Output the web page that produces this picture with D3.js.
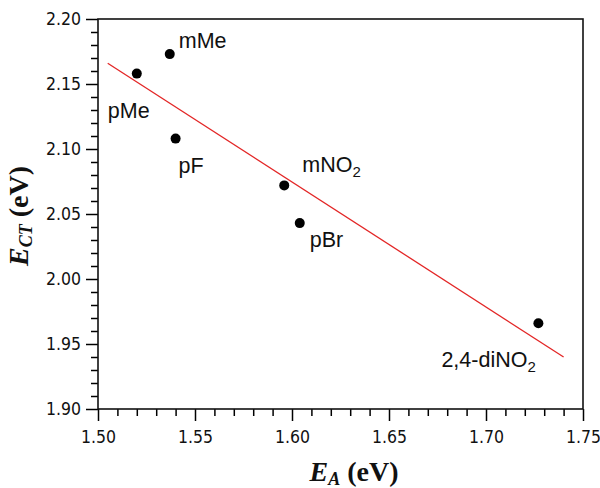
<!DOCTYPE html>
<html>
<head>
<meta charset="utf-8">
<script src="https://cdn.jsdelivr.net/npm/d3@7"></script>
<style>
  body { margin: 0; background: #fff; }
  .tick text { font-family: "DejaVu Sans Condensed", "DejaVu Sans", sans-serif; font-size: 17.5px; fill: #111; }
  .lbl { font-family: "Liberation Sans", Arial, sans-serif; font-size: 21.5px; fill: #111; }
  .title { font-family: "Liberation Serif", "Times New Roman", serif; font-size: 28px; font-weight: bold; fill: #111; }
</style>
</head>
<body>
<div id="chart"></div>
<script>
// substituents, acceptor energy E_A and CT energy E_CT (eV)
var names = ["pMe", "mMe", "pF", "mNO2", "pBr", "2,4-diNO2"];
var ea = [1.520, 1.537, 1.540, 1.596, 1.604, 1.727];
var ect = [2.158, 2.173, 2.108, 2.072, 2.043, 1.966];

// linear fit end points
var fitX = [1.505, 1.740];
var fitY = [2.166, 1.940];

var xTicks = [1.50, 1.55, 1.60, 1.65, 1.70, 1.75];
var yTicks = [1.90, 1.95, 2.00, 2.05, 2.10, 2.15, 2.20];

// label offsets from the dot (px)
var labelDx = [-29, 9, 3, 18, 10, -97];
var labelDy = [44, -6, 34, -13, 24, 44];

var width = 600, height = 488;
var margin = {top: 19, right: 17, bottom: 79, left: 98};

var svg = d3.select("#chart").append("svg")
    .attr("width", width)
    .attr("height", height);

var x = d3.scaleLinear().domain([1.50, 1.75]).range([margin.left, width - margin.right]);
var y = d3.scaleLinear().domain([1.90, 2.20]).range([height - margin.bottom, margin.top]);

function minor(lo, hi) {
    var out = [];
    for (var i = Math.round(lo * 100); i <= Math.round(hi * 100); i++) {
        if (i % 5 != 0) out.push(i / 100);
    }
    return out;
}

// minor ticks
svg.append("g")
    .attr("transform", "translate(0," + y.range()[0] + ")")
    .call(d3.axisBottom(x).tickValues(minor(1.50, 1.75)).tickSize(7).tickFormat(""))
    .call(function (g) { g.select(".domain").remove(); })
    .selectAll("line").attr("stroke-width", 1.5);
svg.append("g")
    .attr("transform", "translate(" + x.range()[0] + ",0)")
    .call(d3.axisLeft(y).tickValues(minor(1.90, 2.20)).tickSize(7).tickFormat(""))
    .call(function (g) { g.select(".domain").remove(); })
    .selectAll("line").attr("stroke-width", 1.5);

// major ticks
var xAxis = svg.append("g")
    .attr("transform", "translate(0," + y.range()[0] + ")")
    .call(d3.axisBottom(x).tickValues(xTicks).tickSize(12).tickPadding(10).tickFormat(d3.format(".2f")));
xAxis.select(".domain").remove();
xAxis.selectAll("line").attr("stroke-width", 1.5);

var yAxis = svg.append("g")
    .attr("transform", "translate(" + x.range()[0] + ",0)")
    .call(d3.axisLeft(y).tickValues(yTicks).tickSize(12).tickPadding(5).tickFormat(d3.format(".2f")));
yAxis.select(".domain").remove();
yAxis.selectAll("line").attr("stroke-width", 1.5);

// frame
svg.append("rect")
    .attr("x", x.range()[0])
    .attr("y", y.range()[1])
    .attr("width", x.range()[1] - x.range()[0])
    .attr("height", y.range()[0] - y.range()[1])
    .attr("fill", "none")
    .attr("stroke", "#111")
    .attr("stroke-width", 1.6);

// fit line
svg.append("line")
    .attr("x1", x(fitX[0])).attr("y1", y(fitY[0]))
    .attr("x2", x(fitX[1])).attr("y2", y(fitY[1]))
    .attr("stroke", "#e32626")
    .attr("stroke-width", 1.3);

// points
svg.append("g").selectAll("circle")
    .data(names)
    .enter().append("circle")
    .attr("cx", function (d, i) { return x(ea[i]); })
    .attr("cy", function (d, i) { return y(ect[i]); })
    .attr("r", 5)
    .attr("fill", "#000");

// point labels, trailing "2" as subscript
var lbl = svg.append("g").selectAll("text")
    .data(names)
    .enter().append("text")
    .attr("class", "lbl")
    .attr("x", function (d, i) { return x(ea[i]) + labelDx[i]; })
    .attr("y", function (d, i) { return y(ect[i]) + labelDy[i]; });
lbl.each(function (d) {
    var t = d3.select(this);
    if (/NO2$/.test(d)) {
        t.append("tspan").text(d.slice(0, -1));
        t.append("tspan").attr("dy", 5).attr("font-size", 15).text("2");
    } else {
        t.text(d);
    }
});

// axis titles
var xt = svg.append("text")
    .attr("class", "title")
    .attr("x", 354)
    .attr("y", 481)
    .attr("text-anchor", "middle");
xt.append("tspan").attr("font-style", "italic").text("E");
xt.append("tspan").attr("font-style", "italic").attr("font-size", 18).attr("dy", 4).text("A");
xt.append("tspan").attr("dy", -4).text(" (eV)");

var yt = svg.append("text")
    .attr("class", "title")
    .attr("transform", "translate(28,216) rotate(-90)")
    .attr("text-anchor", "middle");
yt.append("tspan").attr("font-style", "italic").text("E");
yt.append("tspan").attr("font-style", "italic").attr("font-size", 18).attr("dy", 4).text("CT");
yt.append("tspan").attr("dy", -4).text(" (eV)");
</script>
</body>
</html>
